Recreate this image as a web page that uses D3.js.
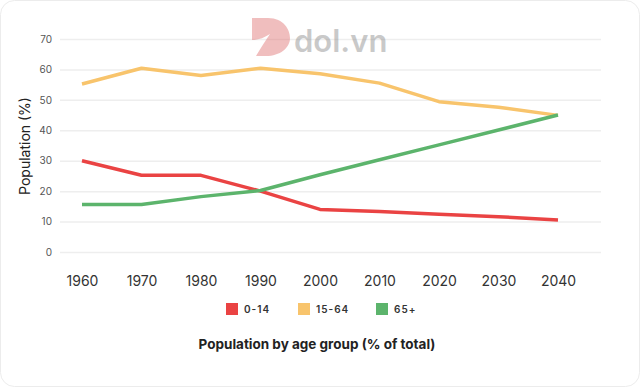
<!DOCTYPE html>
<html>
<head>
<meta charset="utf-8">
<script src="https://cdn.jsdelivr.net/npm/d3@7"></script>
<style>
  body { margin: 0; background: #fff; font-family: Inter, "Noto Sans", sans-serif; }
</style>
</head>
<body>
<div id="chart"></div>
<script>
// Population by age group
var years = ["1960", "1970", "1980", "1990", "2000", "2010", "2020", "2030", "2040"];
var kids = [30, 25.2, 25.2, 20, 14, 13.3, 12.4, 11.6, 10.5];     // 0-14
var working = [55.2, 60.4, 58, 60.4, 58.6, 55.5, 49.4, 47.6, 44.9]; // 15-64
var elderly = [15.6, 15.6, 18.2, 20.2, 25.4, 30.3, 35.2, 40.1, 45]; // 65+
var seriesNames = ["0-14", "15-64", "65+"];
var seriesColors = ["#EA4343", "#F8C46C", "#5CB46C"];
var yTicks = [0, 10, 20, 30, 40, 50, 60, 70];

var W = 640, H = 387;
var svg = d3.select("#chart").append("svg")
    .attr("width", W)
    .attr("height", H);

// card frame
svg.append("rect")
    .attr("x", 0.5).attr("y", 0.5)
    .attr("width", W - 1).attr("height", H - 1)
    .attr("rx", 14)
    .attr("fill", "#fff")
    .attr("stroke", "#ececec");

// scales
var x = d3.scalePoint()
    .domain(years)
    .range([82, 558]);

var y = d3.scaleLinear()
    .domain([0, 70])
    .range([252, 39]);

// gridlines
svg.append("g")
    .attr("class", "grid")
    .attr("transform", "translate(60,0)")
    .call(d3.axisLeft(y).tickValues(yTicks).tickSize(-541).tickFormat(""))
    .call(function (g) { g.select(".domain").remove(); })
    .selectAll("line")
    .attr("stroke", "#eeeeee")
    .attr("stroke-width", 1.5);

// y axis labels
var yAxis = svg.append("g")
    .attr("transform", "translate(60,0)")
    .call(d3.axisLeft(y).tickValues(yTicks).tickSize(0).tickPadding(8));
yAxis.select(".domain").remove();
yAxis.selectAll("text")
    .attr("fill", "#555")
    .style("font-family", "Inter, sans-serif")
    .style("font-size", "10px");

// x axis labels
var xAxis = svg.append("g")
    .attr("transform", "translate(0,268)")
    .call(d3.axisBottom(x).tickSize(0).tickPadding(8));
xAxis.select(".domain").remove();
xAxis.selectAll("text")
    .attr("fill", "#333")
    .style("font-family", "Inter, sans-serif")
    .style("font-size", "14px");

// y label
svg.append("text")
    .attr("transform", "translate(30,146) rotate(-90)")
    .attr("text-anchor", "middle")
    .attr("fill", "#222")
    .style("font-size", "14px")
    .text("Population (%)");

// watermark
var wm = svg.append("g").attr("opacity", 0.45);
wm.append("path")
    .attr("d", "M252,18 L268,18 C284,18 290,30 290,38 C290,48 280,56 266,56 L256,56 C262,46 266,40 270,34 C264,38 258,40 252,40 Z")
    .attr("fill", "#e07070");
wm.append("text")
    .attr("x", 294).attr("y", 52)
    .attr("fill", "#8a8a8a")
    .style("font-size", "31px")
    .style("font-weight", "600")
    .text("dol.vn");

// lines
var allSeries = [kids, working, elderly];
var line = d3.line()
    .x(function (d, i) { return x(years[i]); })
    .y(function (d) { return y(d); });

svg.selectAll(".series")
    .data(allSeries)
    .enter().append("path")
    .attr("class", "series")
    .attr("d", line)
    .attr("fill", "none")
    .attr("stroke", function (d, i) { return seriesColors[i]; })
    .attr("stroke-width", 3.5)
    .attr("stroke-linejoin", "round");

// legend
var legendX = [226, 298, 376];
var legend = svg.selectAll(".legend")
    .data(seriesNames)
    .enter().append("g")
    .attr("class", "legend")
    .attr("transform", function (d, i) { return "translate(" + legendX[i] + ",303)"; });
legend.append("rect")
    .attr("width", 12).attr("height", 12)
    .attr("fill", function (d, i) { return seriesColors[i]; });
legend.append("text")
    .attr("x", 18).attr("y", 10)
    .attr("fill", "#333")
    .style("font-size", "10px")
    .style("font-weight", "600")
    .style("letter-spacing", "1px")
    .text(function (d) { return d; });

// title
svg.append("text")
    .attr("x", 317).attr("y", 349)
    .attr("text-anchor", "middle")
    .attr("fill", "#222")
    .style("font-size", "13.5px")
    .style("font-weight", "700")
    .text("Population by age group (% of total)");
</script>
</body>
</html>
